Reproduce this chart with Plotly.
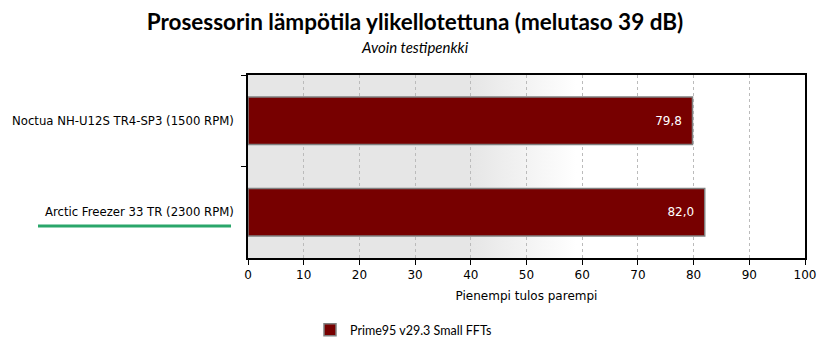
import base64
import plotly.graph_objects as go

categories = ["Noctua NH-U12S TR4-SP3 (1500 RPM)", "Arctic Freezer 33 TR (2300 RPM)"]
values = [79.8, 82.0]
series_name = "Prime95 v29.3 Small FFTs"
title_text = "Prosessorin lämpötila ylikellotettuna (melutaso 39 dB)"
subtitle_text = "Avoin testipenkki"
x_title = "Pienempi tulos parempi"
x_ticks = [0, 10, 20, 30, 40, 50, 60, 70, 80, 90, 100]

W, H = 830, 354
ML, MR, MT, MB = 248, 25, 75, 96
PW = W - ML - MR
PH = H - MT - MB

svg = (
    '<svg xmlns="http://www.w3.org/2000/svg" width="100" height="10" preserveAspectRatio="none">'
    '<defs><linearGradient id="g" x1="0" y1="0" x2="1" y2="0">'
    '<stop offset="0" stop-color="#e6e6e6"/>'
    '<stop offset="0.4" stop-color="#e6e6e6"/>'
    '<stop offset="0.59" stop-color="#ffffff"/>'
    '<stop offset="1" stop-color="#ffffff"/>'
    '</linearGradient></defs>'
    '<rect x="0" y="0" width="100" height="10" fill="url(#g)"/></svg>'
)
bg_uri = "data:image/svg+xml;base64," + base64.b64encode(svg.encode()).decode()

label_texts = [f"{v:.1f}".replace(".", ",") + "\u00a0\u00a0" for v in values]

fig = go.Figure()
fig.add_trace(go.Bar(
    y=categories, x=values, orientation="h", name=series_name,
    marker=dict(color="#770000", line=dict(color="#808080", width=1.5)),
    width=0.52,
    text=label_texts, textposition="inside", insidetextanchor="end",
    textfont=dict(color="white", size=12, family="DejaVu Sans"),
    showlegend=True,
))

fig.update_layout(
    width=W, height=H,
    margin=dict(l=ML, r=MR, t=MT, b=MB, autoexpand=False),
    paper_bgcolor="white", plot_bgcolor="rgba(0,0,0,0)",
    title=dict(text="<b>" + title_text + "</b>", x=415 / W, xref="container", xanchor="center",
               y=1 - 22.5 / H, yref="container", yanchor="middle",
               font=dict(family="Lato", size=22.5, color="black")),
    images=[dict(source=bg_uri, xref="paper", yref="paper", x=0, y=1, sizex=1, sizey=1,
                 xanchor="left", yanchor="top", sizing="stretch", layer="below")],
    annotations=[dict(text="<i>" + subtitle_text + "</i>", xref="paper", yref="paper",
                      x=(415 - ML) / PW, y=(H - MB - 47) / PH, xanchor="center", yanchor="middle",
                      showarrow=False,
                      font=dict(family="Lato", size=15, color="black"))],
    shapes=[dict(type="line", xref="paper", yref="paper",
                 x0=(38 - ML) / PW, x1=(231 - ML) / PW,
                 y0=(H - MB - 226) / PH, y1=(H - MB - 226) / PH,
                 line=dict(color="#2aa66a", width=3))],
    legend=dict(orientation="h", xref="container", yref="container",
                x=310 / W, y=1 - 330 / H, xanchor="left", yanchor="middle",
                font=dict(family="Lato", size=12.5, color="black"),
                itemwidth=30, bgcolor="rgba(0,0,0,0)"),
    separators=",.",
    bargap=0.48,
)

fig.update_xaxes(
    range=[0, 100], tickvals=x_ticks, ticks="outside", ticklen=5, tickcolor="black",
    showline=True, linecolor="black", linewidth=1.5, mirror=True,
    showgrid=True, gridcolor="#bbbbbb", griddash="dot", gridwidth=1,
    zeroline=False, automargin=False,
    tickfont=dict(family="DejaVu Sans", size=12, color="black"),
    title=dict(text=x_title, font=dict(family="DejaVu Sans", size=12, color="black"), standoff=10),
)
fig.update_yaxes(
    autorange="reversed", ticks="outside", ticklen=5, tickcolor="black", tickson="boundaries",
    showline=True, linecolor="black", linewidth=1.5, mirror=True,
    showgrid=False, zeroline=False, automargin=False,
    tickfont=dict(family="DejaVu Sans", size=11.7, color="black"),
    ticklabelstandoff=10,
)

fig.write_html("out.html")
